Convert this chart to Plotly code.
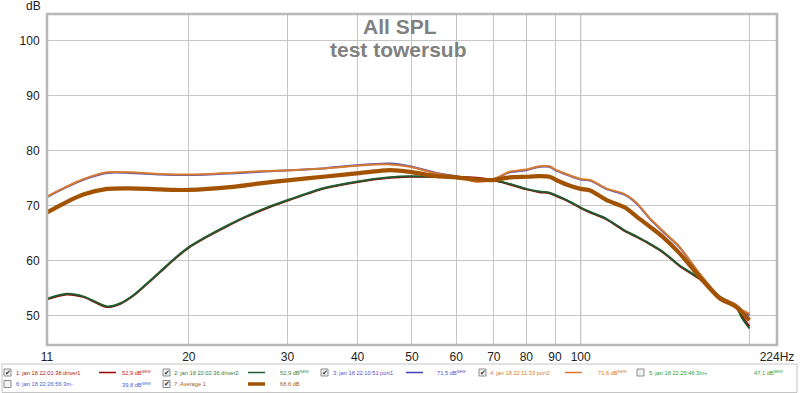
import math
import plotly.graph_objects as go

# ---------------- data ----------------
FREQ_DRV = [11.17, 12.1, 13.0, 14.3, 15.1, 15.9, 16.8, 17.8, 18.8, 20, 21.5, 23.3, 25.2, 27.9, 30.3,
            34.7, 39.8, 45.7, 49.6, 55.3, 60, 65.2, 69.7, 74.7, 80, 84.5, 88, 90.5, 94.3, 100,
            104, 111, 120, 126, 133, 140, 150, 163, 177, 189, 194, 200]
DRIVER1 = [52.9, 53.8, 53.3, 51.5, 52.1, 53.5, 55.6, 57.9, 60.1, 62.3, 64.2, 66.1, 67.8, 69.7, 71.0,
           73.0, 74.2, 75.0, 75.2, 75.2, 75.2, 75.0, 74.6, 73.8, 72.9, 72.4, 72.2, 71.7, 70.9, 69.5,
           68.7, 67.5, 65.3, 64.2, 62.9, 61.5, 59.0, 56.6, 53.4, 51.8, 49.8, 48.0]
DRIVER2 = [53.0, 53.9, 53.4, 51.6, 52.2, 53.6, 55.7, 58.0, 60.2, 62.4, 64.3, 66.2, 67.9, 69.8, 71.1,
           73.1, 74.3, 75.1, 75.3, 75.2, 75.1, 74.7, 74.6, 73.9, 73.0, 72.5, 72.3, 71.8, 71.0, 69.6,
           68.8, 67.6, 65.4, 64.3, 63.0, 61.6, 59.1, 56.7, 53.4, 51.7, 49.5, 47.6]

FREQ = [11.17, 12.1, 13.0, 14.3, 15.7, 17.8, 20, 23.7, 26.8, 30.3, 34.7, 39.8, 45.7, 49.6,
        55.3, 60, 65.2, 69.7, 74.7, 80, 84.5, 88, 90.5, 94.3, 100, 104, 111, 120, 126,
        133, 140, 150, 163, 177, 189, 194, 200]
PORT1 = [71.5, 73.3, 74.7, 75.9, 75.9, 75.6, 75.5, 75.8, 76.1, 76.4, 76.7, 77.3, 77.6, 77.1,
         75.9, 75.3, 74.4, 74.7, 76.0, 76.4, 77.0, 77.0, 76.3, 75.6, 74.7, 74.5, 73.0, 71.9,
         70.3, 67.5, 65.3, 62.4, 57.5, 53.3, 51.9, 50.9, 50.0]
PORT2 = [71.6, 73.4, 74.8, 76.0, 76.0, 75.7, 75.6, 75.9, 76.2, 76.4, 76.7, 77.2, 77.45, 77.0,
         75.8, 75.2, 74.3, 74.7, 76.1, 76.5, 77.1, 77.1, 76.4, 75.7, 74.8, 74.6, 73.1, 72.0,
         70.4, 67.6, 65.4, 62.5, 57.6, 53.4, 52.0, 51.0, 50.3]
AVERAGE = [68.7, 70.6, 72.0, 73.0, 73.1, 72.9, 72.8, 73.3, 74.0, 74.6, 75.2, 75.8, 76.4, 76.1,
           75.3, 75.1, 74.7, 74.6, 75.1, 75.2, 75.3, 75.2, 74.6, 73.8, 73.0, 72.7, 71.0, 69.6,
           67.9, 66.1, 64.3, 61.3, 57.0, 53.1, 51.6, 50.5, 49.1]

X_TICKS = [11.17, 20, 30, 40, 50, 60, 70, 80, 90, 100, 200, 224]
X_TICKTEXT = ["11", "20", "30", "40", "50", "60", "70", "80", "90", "100", "", "224Hz"]
Y_TICKS = [50, 60, 70, 80, 90, 100]
X_RANGE = [11.17, 224]
Y_RANGE = [44.6, 104.8]

LEGEND_ROW1 = [
    # (checked, label, label colour, line colour, line width, level, level colour, new)
    (True, "1: jan 18 22:01:38 driver1", "#b01818", "#9a0000", 1.5, "52,9 dB", "#c02020", True),
    (True, "2: jan 18 22:02:36 driver2", "#2e7d4a", "#1e5a30", 1.5, "52,9 dB", "#2e8b50", True),
    (True, "3: jan 18 22:10:51 port1", "#5a50c8", "#4040b0", 1.5, "71,5 dB", "#5a50c8", True),
    (True, "4: jan 18 22:11:33 port2", "#d8782a", "#d8782a", 1.5, "71,6 dB", "#d8782a", True),
    (False, "5: jan 18 22:25:46 3m+", "#30a030", None, 0, "47,1 dB", "#30a030", True),
]
LEGEND_ROW2 = [
    (False, "6: jan 18 22:26:56 3m-", "#3c64d0", None, 0, "39,8 dB", "#3c64d0", True),
    (True, "7: Average 1", "#a0601e", "#a35200", 3.5, "68,6 dB", "#a0601e", False),
]

# ---------------- layout geometry (pixels) ----------------
W, H = 800, 393
L, R, T, B = 47, 777, 14, 345
PW, PH = R - L, B - T


def px(x):
    return (x - L) / PW


def py(y):
    return (B - y) / PH


fig = go.Figure()

series = [
    (FREQ_DRV, DRIVER1, "#9a0000", 2.0, "driver1"),
    (FREQ_DRV, DRIVER2, "#1f5c30", 2.0, "driver2"),
    (FREQ, PORT1, "#5050c0", 2.0, "port1"),
    (FREQ, PORT2, "#d57a30", 2.0, "port2"),
    (FREQ, AVERAGE, "#a35200", 4.2, "Average 1"),
]
for xs, vals, col, w, name in series:
    fig.add_trace(go.Scatter(x=xs, y=vals, mode="lines", name=name,
                             line=dict(color=col, width=w, shape="spline", smoothing=0.7),
                             showlegend=False, hoverinfo="skip"))

shapes = []
annotations = []


def note(text, x, y, size, color, xanchor="center", bold=False, family="Liberation Sans"):
    annotations.append(dict(text=f"<b>{text}</b>" if bold else text, xref="paper", yref="paper",
                            x=px(x), y=py(y), xanchor=xanchor, yanchor="middle", showarrow=False,
                            borderpad=0, font=dict(size=size, color=color, family=family)))


# 100 Hz darker grid line
shapes.append(dict(type="line", xref="x", yref="paper", x0=100, x1=100, y0=0, y1=1,
                   line=dict(color="#7a7a7a", width=1), layer="below"))
# plot frame
shapes.append(dict(type="rect", xref="paper", yref="paper", x0=0, x1=1, y0=0, y1=1,
                   line=dict(color="#b8b8b8", width=2.5), layer="above"))

# title
note("All SPL", 400, 26, 21, "#808080", bold=True)
note("test towersub", 398, 49.5, 21, "#808080", bold=True)
# dB unit label
note("dB", 33, 6, 12, "#222")

# legend box
shapes.append(dict(type="rect", xref="paper", yref="paper", x0=px(2), x1=px(797), y0=py(364), y1=py(392.5),
                   line=dict(color="#c4c4c4", width=1), fillcolor="white", layer="above"))

COLS = [(4, 15, 99, 121), (163, 173, 248, 279), (321, 332, 406, 436), (479, 489, 565, 597),
        (637, 648, None, 753)]
LF = 5.7


def legend_row(entries, yc):
    for (checked, label, lcol, linecol, lw, level, levcol, new), (cbx, tx, lx, vx) in zip(entries, COLS):
        shapes.append(dict(type="rect", xref="paper", yref="paper", x0=px(cbx), x1=px(cbx + 7),
                           y0=py(yc + 3.5), y1=py(yc - 3.5),
                           line=dict(color="#8c8c8c", width=1), fillcolor="#f2f2f2", layer="above"))
        if checked:
            note("✔", cbx + 3.8, yc, 7, "#303030", family="DejaVu Sans")
        note(label, tx, yc, LF, lcol, xanchor="left")
        if linecol:
            shapes.append(dict(type="line", xref="paper", yref="paper", x0=px(lx), x1=px(lx + 17),
                               y0=py(yc), y1=py(yc), line=dict(color=linecol, width=lw), layer="above"))
        txt = level + ("<sup>NEW</sup>" if new else "")
        note(txt, vx, yc, LF, levcol, xanchor="left")


legend_row(LEGEND_ROW1, 372.5)
legend_row(LEGEND_ROW2, 384)

fig.update_layout(
    width=W, height=H,
    margin=dict(l=L, r=W - R, t=T, b=H - B, pad=0, autoexpand=False),
    paper_bgcolor="white", plot_bgcolor="white",
    font=dict(family="Liberation Sans", size=12, color="#222"),
    showlegend=False,
    shapes=shapes, annotations=annotations,
    xaxis=dict(type="log", range=[math.log10(X_RANGE[0]), math.log10(X_RANGE[1])],
               tickvals=X_TICKS, ticktext=X_TICKTEXT, showgrid=True, gridcolor="#c6c6c6", gridwidth=1,
               zeroline=False, showline=False, ticks="outside", ticklen=1, tickcolor="rgba(0,0,0,0)",
               tickfont=dict(size=12, color="#222")),
    yaxis=dict(range=Y_RANGE, tickvals=Y_TICKS, showgrid=True, gridcolor="#c6c6c6", gridwidth=1,
               zeroline=False, showline=False, ticks="outside", ticklen=4, tickcolor="rgba(0,0,0,0)",
               tickfont=dict(size=12, color="#222")),
)

fig.write_html("out.html", config={"displayModeBar": False},
               post_script="document.body.style.margin='0';document.body.style.overflow='hidden';")
